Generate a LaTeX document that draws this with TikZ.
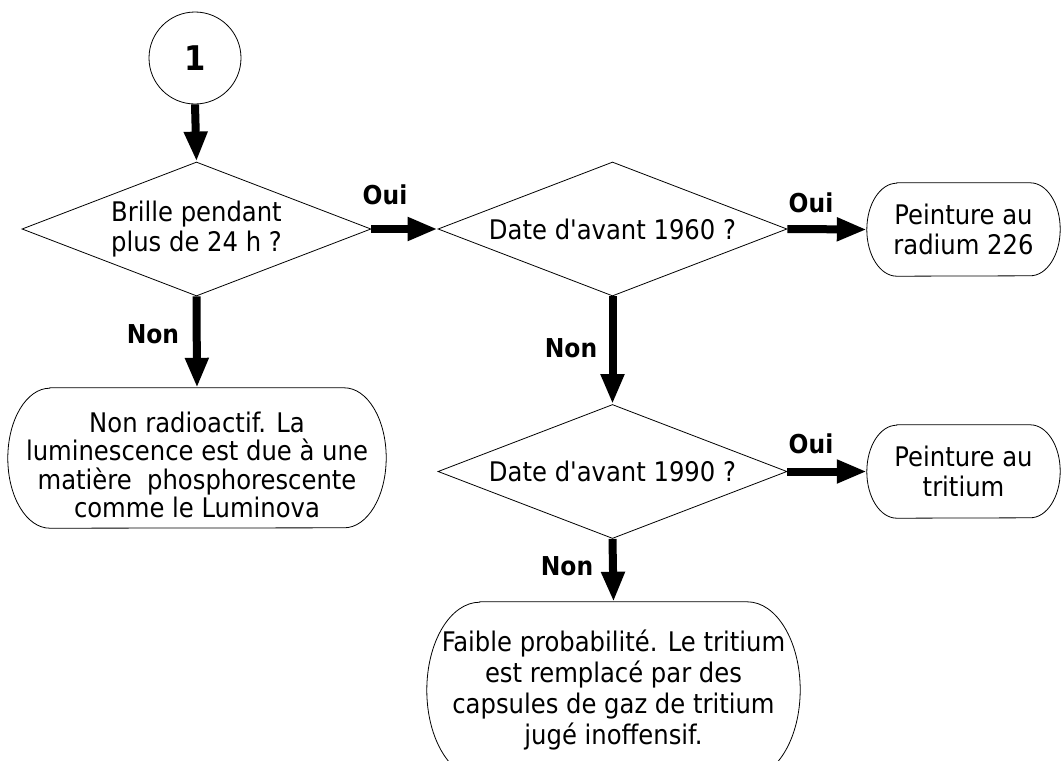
\documentclass[tikz,border=0pt]{standalone}
\usepackage{fontspec}
\setmainfont{DejaVu Sans Condensed}[Ligatures=TeXOff]
\usetikzlibrary{shapes.geometric,arrows.meta}

% outline of a terminal box: straight top and bottom, elliptical ends
\newcommand\terminaloutline[3]{%
  \draw[outline] ([xshift=#2]#1.north west) -- ([xshift=-#2]#1.north east)
    arc[start angle=90,end angle=-90,x radius=#2,y radius=#3]
    -- ([xshift=#2]#1.south west)
    arc[start angle=270,end angle=90,x radius=#2,y radius=#3] -- cycle;}

\begin{document}
\begin{tikzpicture}[x=1pt,y=-1pt,
  outline/.style={draw=black,line width=0.8pt},
  txt/.style={font=\fontsize{27}{29.5}\selectfont,align=center},
  decision/.style={outline,txt,diamond,aspect=2.6,inner sep=0pt,
    minimum width=349pt,minimum height=134pt},
  terminal/.style={txt,inner sep=0pt},
  flow/.style={line width=8pt,-{Triangle[length=30pt,width=22pt]}},
  answer/.style={font=\bfseries\fontsize{26}{30}\selectfont}]
\useasboundingbox (0,0) rectangle (1062,760);

% start connector
\node[outline,circle,minimum size=92pt,inner sep=0pt,
  font=\bfseries\fontsize{34}{40}\selectfont] (start) at (195,58) {1};

% decisions
\node[decision] (q1) at (196.5,229) {Brille pendant\\plus de 24 h ?};
\node[decision] (q2) at (612.5,229) {Date d'avant 1960 ?};
\node[decision] (q3) at (612.5,471.5) {Date d'avant 1990 ?};

% outcomes
\node[terminal,minimum width=193pt,minimum height=93pt] (radium) at (963.5,229.5)
  {Peinture au\\radium 226};
\terminaloutline{radium}{30pt}{46.5pt}
\node[terminal,minimum width=193pt,minimum height=93pt] (tritium) at (963.5,471.5)
  {Peinture au\\tritium};
\terminaloutline{tritium}{30pt}{46.5pt}
\node[terminal,minimum width=378pt,minimum height=140pt] (lumi) at (197,458) {};
\terminaloutline{lumi}{42pt}{70pt}
\node[terminal,font=\fontsize{27}{28.4}\selectfont] (lumitext) at (197,465)
  {Non radioactif. La\\luminescence est due à une\\matière\ \ phosphorescente\\comme le Luminova};
\node[terminal,font=\fontsize{27}{31}\selectfont,minimum width=373pt,minimum height=176pt]
  (gaz) at (613.5,690)
  {Faible probabilité. Le tritium\\est remplacé par des\\capsules de gaz de tritium\\jugé inoffensif.};
\terminaloutline{gaz}{53pt}{88pt}

% connectors
\draw[flow] (start.south) -- (q1.north);
\draw[flow] (q1.east) -- (q2.west);
\draw[flow] (q2.east) -- (radium.west);
\draw[flow] (q1.south) -- (lumi.north);
\draw[flow] (q2.south) -- (q3.north);
\draw[flow] (q3.east) -- (tritium.west);
\draw[flow] (q3.south) -- (gaz.north);

% answer labels
\node[answer] (oui1) at (385,195) {Oui};
\node[answer] (oui2) at (811,203) {Oui};
\node[answer] (oui3) at (811,444) {Oui};
\node[answer] (non1) at (153,334) {Non};
\node[answer] (non2) at (571,348) {Non};
\node[answer] (non3) at (567,566) {Non};
\end{tikzpicture}
\end{document}
